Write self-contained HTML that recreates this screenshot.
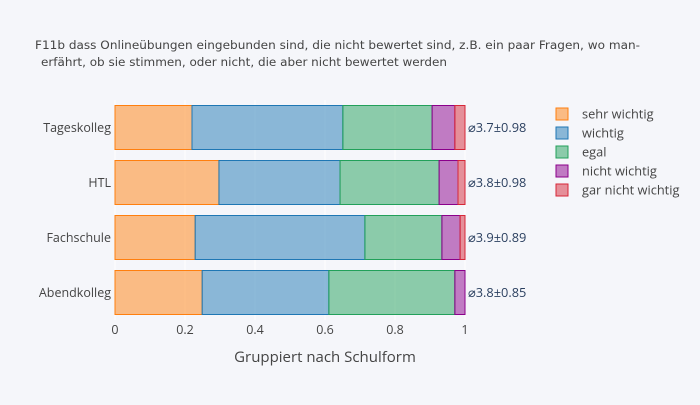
<!DOCTYPE html>
<html><head><meta charset="utf-8"><style>
body{margin:0;background:#f5f6fa;}
svg{font-family:"Open Sans","Liberation Sans","DejaVu Sans",sans-serif;}
</style></head><body>
<svg id="chart" width="700" height="400" xmlns="http://www.w3.org/2000/svg">
<rect width="700" height="400" fill="#f5f6fa"/>
<text x="35" y="49" font-size="11.6" fill="#444" style="font-family:'DejaVu Sans',sans-serif" textLength="605" lengthAdjust="spacingAndGlyphs">F11b dass Onlineübungen eingebunden sind, die nicht bewertet sind, z.B. ein paar Fragen, wo man-</text>
<text x="41" y="66" font-size="11.6" fill="#444" style="font-family:'DejaVu Sans',sans-serif" textLength="406" lengthAdjust="spacingAndGlyphs">erfährt, ob sie stimmen, oder nicht, die aber nicht bewertet werden</text>
<g id="grid"></g><g id="bars"></g><g id="labels"></g><g id="legend"></g>
<text x="325" y="362" font-size="15" fill="#444" text-anchor="middle">Gruppiert nach Schulform</text>
</svg>
<script>
const categories=["Tageskolleg","HTL","Fachschule","Abendkolleg"];
const seriesNames=["sehr wichtig","wichtig","egal","nicht wichtig","gar nicht wichtig"];
const sehrWichtig=[0.22,0.297,0.229,0.249];
const wichtig=[0.431,0.346,0.485,0.362];
const egal=[0.255,0.283,0.22,0.36];
const nichtWichtig=[0.065,0.054,0.052,0.029];
const garNichtWichtig=[0.029,0.02,0.014,0];
const meanLabels=["⌀3.7±0.98","⌀3.8±0.98","⌀3.9±0.89","⌀3.8±0.85"];
const xTicks=[0,0.2,0.4,0.6,0.8,1];
const colors=["#ff7f0e","#1f77b4","#22a05a","#8b008b","#d62738"];
const series=[sehrWichtig,wichtig,egal,nichtWichtig,garNichtWichtig];
const NS="http://www.w3.org/2000/svg";
const x0=115,x1=535,xmax=1.2,yTop=100,bandH=55,barH=44;
const xs=v=>x0+(x1-x0)*v/xmax;
const yc=i=>yTop+bandH*i+bandH/2;
function mk(t,a,p){const e=document.createElementNS(NS,t);for(const k in a)e.setAttribute(k,a[k]);p.appendChild(e);return e;}
const grid=document.getElementById('grid');
xTicks.forEach(t=>{
  const l=mk('line',{x1:xs(t),x2:xs(t),y1:yTop,y2:yTop+bandH*4,stroke:'#fff','stroke-width':1},grid);
  
  
  const tx=mk('text',{x:xs(t),y:334,'font-size':12.5,fill:'#444','text-anchor':'middle'},grid);
  tx.textContent=t;
  
  
});
const bars=document.getElementById('bars');
categories.forEach((c,i)=>{
  let cum=0;
  series.forEach((s,j)=>{
    const v=s[i];
    if(v>0){
      const r=mk('rect',{x:xs(cum),y:yc(i)-barH/2,width:xs(cum+v)-xs(cum),height:barH,fill:colors[j],'fill-opacity':0.5,stroke:colors[j],'stroke-width':1},bars);
      
      
    }
    cum+=v;
  });
  const lab=mk('text',{x:xs(cum)+3,y:yc(i)+4.5,'font-size':12.8,fill:'#2a3f5f'},document.getElementById('labels'));
  lab.textContent=meanLabels[i];
  
  
  const cl=mk('text',{x:111,y:yc(i)+4.5,'font-size':12.5,fill:'#444','text-anchor':'end'},document.getElementById('labels'));
  cl.textContent=c;
  
  
});
const leg=document.getElementById('legend');
seriesNames.forEach((n,j)=>{
  const g=mk('g',{},leg);
  
  
  const y=114+j*19;
  mk('rect',{x:556,y:y-6,width:12,height:12,fill:colors[j],'fill-opacity':0.5,stroke:colors[j],'stroke-width':1},g);
  const t=mk('text',{x:582,y:y+4.5,'font-size':12.8,fill:'#444'},g);
  t.textContent=n;
});
</script>
</body></html>
